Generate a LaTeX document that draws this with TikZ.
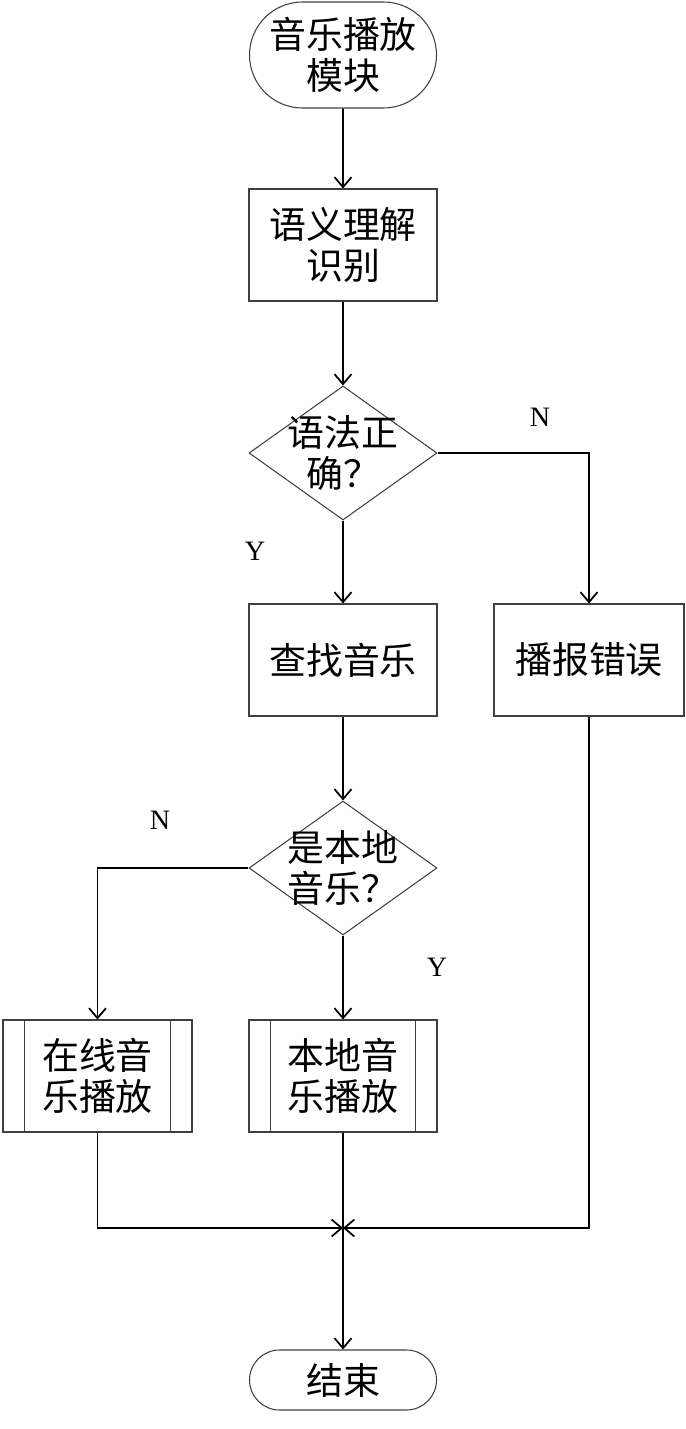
\documentclass[tikz,border=0pt]{standalone}
\usepackage{fontspec}
\setmainfont{Liberation Serif}
\newfontfamily\cjk{Noto Sans CJK SC}
\usetikzlibrary{shapes.geometric,shapes.misc,arrows.meta}

\begin{document}
\begin{tikzpicture}[
    every node/.style={font=\cjk\fontsize{21}{23}\selectfont, align=center, inner sep=0pt},
    terminal/.style={rounded rectangle, draw=black!75, line width=0.6pt, minimum width=3.74cm},
    procbox/.style={rectangle, draw=black!75, line width=0.6pt, minimum width=3.76cm, minimum height=2.24cm},
    subproc/.style={procbox, append after command={
        (\tikzlastnode.north west) ++(0.44,0) edge[draw=black!75, line width=0.6pt] ++(0,-2.24)
        (\tikzlastnode.north east) ++(-0.44,0) edge[draw=black!75, line width=0.6pt] ++(0,-2.24)}},
    decision/.style={diamond, draw=black!75, line width=0.6pt, minimum width=3.76cm, minimum height=2.68cm},
    yn/.style={font=\fontsize{16}{18}\selectfont},
    flow/.style={line width=1.1pt, -{Straight Barb[length=2mm, width=3.4mm, line width=1pt]}},
    plain/.style={line width=1.1pt}
  ]
    \useasboundingbox (0,0) rectangle (13.72,-28.58);

    \node[terminal, minimum height=2.12cm] (start) at (6.86,-1.10) {音乐播放\\模块};
    \node[procbox] (parse) at (6.86,-4.90) {语义理解\\识别};
    \node[decision, label={center:语法正\\确？}] (gram) at (6.86,-9.06) {};
    \node[procbox] (search) at (6.86,-13.20) {查找音乐};
    \node[procbox, minimum width=3.80cm] (error) at (11.78,-13.20) {播报错误};
    \node[decision, label={center:是本地\\音乐？}] (islocal) at (6.86,-17.36) {};
    \node[subproc, minimum width=3.78cm] (online) at (1.95,-21.52) {在线音\\乐播放};
    \node[subproc] (local) at (6.86,-21.52) {本地音\\乐播放};
    \coordinate (join) at (6.86,-24.56);
    \node[terminal, minimum height=1.20cm] (end) at (6.86,-27.60) {结束};

    \node[yn] (n1) at (10.80,-8.34) {N};
    \node[yn] (y1) at (5.10,-11.02) {Y};
    \node[yn] (n2) at (3.20,-16.40) {N};
    \node[yn] (y2) at (8.74,-19.34) {Y};

    \draw[flow] (start) -- (parse);
    \draw[flow] (parse) -- (gram);
    \draw[flow] (gram) -- (search);
    \draw[flow] (gram.east) -| (error.north);
    \draw[flow] (search) -- (islocal);
    \draw[flow] (islocal.west) -| (online.north);
    \draw[flow] (islocal) -- (local);
    \draw[flow] (online.south) |- (join);
    \draw[flow] (error.south) |- (join);
    \draw[flow] (local) -- (end);
  \end{tikzpicture}
\end{document}
